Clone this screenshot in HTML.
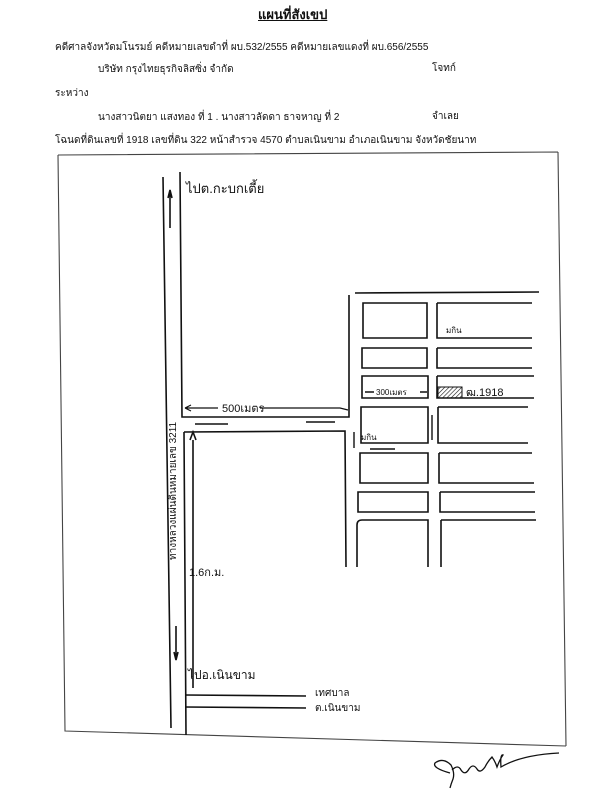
<!DOCTYPE html>
<html><head><meta charset="utf-8"><style>
html,body{margin:0;padding:0;background:#fff;}
body{width:602px;height:800px;position:relative;overflow:hidden;font-family:"Liberation Sans","Noto Sans CJK SC",sans-serif;color:#111;}
.t{position:absolute;font-size:10px;white-space:nowrap;}
</style></head><body>
<div class="t" style="left:258px;top:4px;font-size:13px;font-weight:bold;text-decoration:underline;">แผนที่สังเขป</div>
<div class="t" style="left:55px;top:40px;">คดีศาลจังหวัดมโนรมย์ คดีหมายเลขดำที่ ผบ.532/2555 คดีหมายเลขแดงที่ ผบ.656/2555</div>
<div class="t" style="left:98px;top:62px;">บริษัท กรุงไทยธุรกิจลิสซิ่ง จำกัด</div>
<div class="t" style="left:432px;top:61px;">โจทก์</div>
<div class="t" style="left:55px;top:86px;">ระหว่าง</div>
<div class="t" style="left:98px;top:110px;">นางสาวนิตยา แสงทอง ที่ 1 . นางสาวลัดดา ธาจหาญ ที่ 2</div>
<div class="t" style="left:432px;top:109px;">จำเลย</div>
<div class="t" style="left:55px;top:133px;">โฉนดที่ดินเลขที่ 1918 เลขที่ดิน 322 หน้าสำรวจ 4570 ตำบลเนินขาม อำเภอเนินขาม จังหวัดชัยนาท</div>
<svg width="602" height="800" style="position:absolute;left:0;top:0" fill="none" stroke="#111" stroke-width="1.6" font-family="Liberation Sans, Noto Sans CJK SC, sans-serif">
<path d="M58 155 L558 152 M58 155 L65 731 L566 746 M558 152 L566 746" stroke-width="1.1" stroke="#444"/>
<path d="M163 177 L171 728 M180 172 L182 417 L349 417 L349 295 M355 293 L539 292"/>
<path d="M184 432 L345 431 L346 567 M184 432 L186 735 M193 440 L193 688 M190 440 l3 -8 l3 8"/>
<path d="M170 190 L170 228 M168 198 l2 -8 l2 8"/>
<path d="M176 626 L176 660 M174 652 l2 8 l2 -8"/>
<path d="M185 695 L306 696 M185 707 L306 708"/>
<path d="M363 303 h64 v35 h-64 z M362 348 h65 v20 h-65 z M362 376 h66 v22 h-66 z M361 407 h67 v36 h-67 z M360 453 h68 v30 h-68 z M358 492 h70 v20 h-70 z M357 567 V525 q0-5 5-5 h66 v47"/>
<path d="M437 303 v35 h95 M437 303 h95 M437 348 v20 h95 M437 348 h95 M437 376 v22 h97 M437 376 h97 M438 407 v36 h90 M438 407 h90 M439 453 v30 h95 M439 453 h93 M440 492 v20 h95 M440 492 h95 M441 520 v47 M441 520 h95"/>
<defs><pattern id="h" width="3" height="3" patternUnits="userSpaceOnUse" patternTransform="rotate(45)"><line x1="0" y1="0" x2="0" y2="3" stroke="#111" stroke-width="1.2"/></pattern></defs>
<rect x="438" y="387" width="24" height="11" fill="url(#h)" stroke-width="1"/>
<path d="M185 408 H218 M260 408 H340 l8 2 M185 408 l6 -3 M185 408 l6 3" stroke-width="1.2"/>
<path d="M195 424 H228 M306 422 H335 M370 449 H395 M365 392 H374 M420 392 H427 M354 432 V448 M432 415 V440" stroke-width="1.4"/>
<g fill="#111" stroke="none" font-size="11">
<text x="186" y="193" font-size="13">ไปต.กะบกเตี้ย</text>
<text x="222" y="412" font-size="11">500เมตร</text>
<text x="376" y="395" font-size="8">300เมตร</text>
<text x="466" y="396" font-size="11">ฒ.1918</text>
<text x="446" y="333" font-size="8">มกิน</text>
<text x="361" y="440" font-size="8">มกิน</text>
<text x="189" y="576" font-size="11">1.6ก.ม.</text>
<text x="188" y="679" font-size="12">ไปอ.เนินขาม</text>
<text x="315" y="696" font-size="10">เทศบาล</text>
<text x="315" y="711" font-size="10">ต.เนินขาม</text>
<text transform="translate(176 560) rotate(-90)" font-size="10">ทางหลวงแผ่นดินหมายเลข 3211</text>
</g>
<path d="M450 773 q-18 -5 -15 -10 q8 -6 16 2 q4 8 2 14 q-2 5 -3 9 M452 770 q6 -6 9 0 q4 6 8 -1 q4 -6 8 0 q3 5 8 -2 q3 -6 7 -10 q3 4 5 10 q3 -8 6 -12 q-3 -1 -2 12 q20 -12 58 -14" stroke-width="1.3"/>
</svg>
</body></html>
